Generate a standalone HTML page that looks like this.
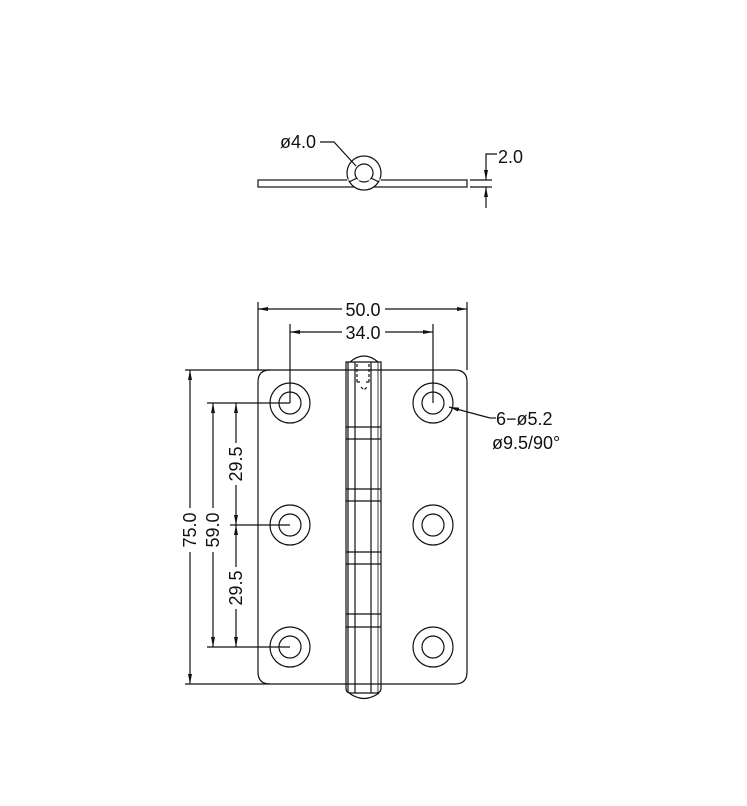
<!DOCTYPE html>
<html><head><meta charset="utf-8"><style>
html,body{margin:0;padding:0;background:#fff;}
svg{display:block;}
text{font-family:"Liberation Sans",sans-serif;font-size:18px;fill:#111;}
</style></head><body>
<svg width="747" height="806" viewBox="0 0 747 806" xmlns="http://www.w3.org/2000/svg">
<defs>
<marker id="a" viewBox="0 0 10 4" refX="10" refY="2" markerWidth="10" markerHeight="4" orient="auto-start-reverse" markerUnits="userSpaceOnUse"><path d="M0,0L10,2L0,4z" fill="#111"/></marker>
</defs>
<g fill="none" stroke="#111" stroke-width="1.2">
<!-- top view -->
<rect x="258" y="180" width="209" height="7"/>
<circle cx="364" cy="173" r="17" fill="#fff"/>
<circle cx="364" cy="173" r="9"/>
<line x1="347" y1="180" x2="381" y2="180" stroke="#fff" stroke-width="1"/>
<path d="M357,178 L349,182 M371,178 L379,182"/>
<path d="M320,142 L334,142 L356,166"/>
<line x1="470" y1="180" x2="492" y2="180"/>
<line x1="470" y1="187" x2="492" y2="187"/>
<line x1="486" y1="160" x2="486" y2="180" marker-end="url(#a)"/>
<line x1="486" y1="208" x2="486" y2="187" marker-end="url(#a)"/>
<path d="M486,160 L486,154 L497,154"/>

<!-- plate -->
<path d="M270,370 H455 Q467,370 467,382 V672 Q467,684 455,684 H270 Q258,684 258,672 V382 Q258,370 270,370 Z"/>
<line x1="185" y1="370" x2="270" y2="370"/>
<line x1="185" y1="684" x2="270" y2="684"/>
<g>
<circle cx="290" cy="403" r="20"/><circle cx="290" cy="403" r="11"/>
<circle cx="290" cy="525" r="20"/><circle cx="290" cy="525" r="11"/>
<circle cx="290" cy="647" r="20"/><circle cx="290" cy="647" r="11"/>
<circle cx="433" cy="403" r="20"/><circle cx="433" cy="403" r="11"/>
<circle cx="433" cy="525" r="20"/><circle cx="433" cy="525" r="11"/>
<circle cx="433" cy="647" r="20"/><circle cx="433" cy="647" r="11"/>
</g>
<!-- knuckle -->
<path d="M346,362 H381 V688 Q381,693 376,693 H351 Q346,693 346,688 Z" fill="#fff"/>
<path d="M350,362 Q364,350 378,362"/>
<path d="M349,693 Q364,704 379,693"/>
<line x1="348" y1="362" x2="348" y2="693"/>
<line x1="355" y1="362" x2="355" y2="693"/>
<line x1="371" y1="362" x2="371" y2="693"/>
<line x1="378" y1="362" x2="378" y2="693" stroke-width="0.8"/>
<line x1="346" y1="370" x2="381" y2="370"/>
<line x1="346" y1="684" x2="381" y2="684"/>
<path d="M357,364 V382 M369,364 V382 M357,382 H360 M366,382 H369 M361,387 L364,390 L367,387" stroke-dasharray="3,2"/>
<line x1="346" y1="427" x2="381" y2="427"/>
<line x1="346" y1="439" x2="381" y2="439"/>
<line x1="346" y1="489" x2="381" y2="489"/>
<line x1="346" y1="501" x2="381" y2="501"/>
<line x1="346" y1="552" x2="381" y2="552"/>
<line x1="346" y1="564" x2="381" y2="564"/>
<line x1="346" y1="614" x2="381" y2="614"/>
<line x1="346" y1="627" x2="381" y2="627"/>

<!-- horizontal dims -->
<line x1="258" y1="302" x2="258" y2="370"/>
<line x1="467" y1="302" x2="467" y2="370"/>
<line x1="342" y1="309" x2="258" y2="309" marker-end="url(#a)"/>
<line x1="385" y1="309" x2="467" y2="309" marker-end="url(#a)"/>
<line x1="290" y1="324" x2="290" y2="403"/>
<line x1="433" y1="324" x2="433" y2="403"/>
<line x1="342" y1="332" x2="290" y2="332" marker-end="url(#a)"/>
<line x1="385" y1="332" x2="433" y2="332" marker-end="url(#a)"/>

<!-- vertical dims -->
<line x1="190" y1="508" x2="190" y2="370" marker-end="url(#a)"/>
<line x1="190" y1="552" x2="190" y2="684" marker-end="url(#a)"/>
<line x1="207" y1="403" x2="290" y2="403"/>
<line x1="207" y1="647" x2="290" y2="647"/>
<line x1="213" y1="508" x2="213" y2="403" marker-end="url(#a)"/>
<line x1="213" y1="552" x2="213" y2="647" marker-end="url(#a)"/>
<line x1="230" y1="525" x2="290" y2="525"/>
<line x1="236" y1="443" x2="236" y2="403" marker-end="url(#a)"/>
<line x1="236" y1="485" x2="236" y2="525" marker-end="url(#a)"/>
<line x1="236" y1="567" x2="236" y2="525" marker-end="url(#a)"/>
<line x1="236" y1="609" x2="236" y2="647" marker-end="url(#a)"/>

<!-- leader -->
<line x1="490" y1="418" x2="449" y2="407" marker-end="url(#a)"/>
<line x1="490" y1="418" x2="496" y2="418"/>
</g>
<text x="280" y="148">ø4.0</text>
<text x="498" y="163">2.0</text>
<text x="363" y="316" text-anchor="middle">50.0</text>
<text x="363" y="339" text-anchor="middle">34.0</text>
<text x="496" y="425">6−ø5.2</text>
<text x="492" y="449">ø9.5/90°</text>
<text transform="translate(196,530) rotate(-90)" text-anchor="middle">75.0</text>
<text transform="translate(219,530) rotate(-90)" text-anchor="middle">59.0</text>
<text transform="translate(242,464) rotate(-90)" text-anchor="middle">29.5</text>
<text transform="translate(242,588) rotate(-90)" text-anchor="middle">29.5</text>
</svg>
</body></html>
